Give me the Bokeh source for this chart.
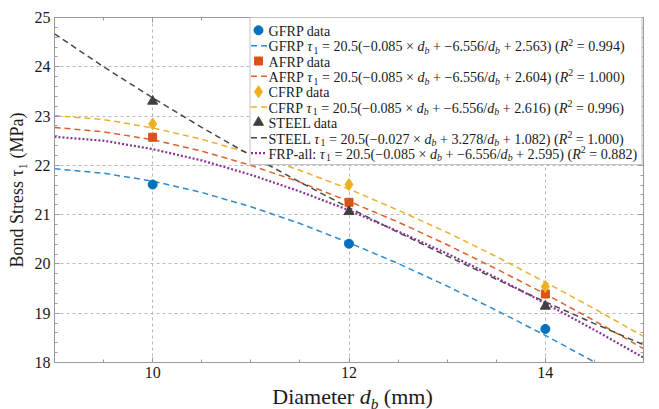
from bokeh.plotting import figure
from bokeh.layouts import column
from bokeh.models import (FixedTicker, LinearAxis, Label, CustomJSTickFormatter, Range1d)
from bokeh.embed import file_html
from bokeh.resources import INLINE

# ---------------- data ----------------
diameters = [10, 12, 14]
gfrp_data = [21.61, 20.41, 18.68]
afrp_data = [22.57, 21.25, 19.39]
cfrp_data = [22.84, 21.61, 19.54]
steel_data = [23.30, 21.06, 19.14]

fit_d = [9.0, 9.5, 10.0, 10.5, 11.0, 11.5, 12.0, 12.5, 13.0, 13.5, 14.0, 14.5, 15.0]
fit_gfrp = [21.93, 21.84, 21.68, 21.45, 21.16, 20.82, 20.43, 20.01, 19.55, 19.06, 18.55, 18.01, 17.44]
fit_afrp = [22.77, 22.68, 22.52, 22.29, 22.00, 21.66, 21.27, 20.85, 20.39, 19.90, 19.39, 18.85, 18.28]
fit_cfrp = [23.01, 22.93, 22.76, 22.53, 22.24, 21.90, 21.52, 21.09, 20.64, 20.15, 19.63, 19.09, 18.53]
fit_steel = [24.67, 24.00, 23.37, 22.77, 22.20, 21.66, 21.14, 20.64, 20.16, 19.69, 19.23, 18.79, 18.36]
fit_all = [22.58, 22.50, 22.33, 22.10, 21.81, 21.47, 21.09, 20.66, 20.21, 19.72, 19.20, 18.66, 18.10]

fit_names = ["GFRP", "AFRP", "CFRP", "STEEL", "FRP-all:"]
fit_scale = "20.5"
fit_a = [-0.085, -0.085, -0.085, -0.027, -0.085]
fit_b = [-6.556, -6.556, -6.556, 3.278, -6.556]
fit_c = [2.563, 2.604, 2.616, 1.082, 2.595]
fit_r2 = [0.994, 1.000, 0.996, 1.000, 0.882]

data_names = ["GFRP data", "AFRP data", "CFRP data", "STEEL data"]
y_label = "Bond Stress τ₁ (MPa)"

x_major = [10, 12, 14]
x_minor = [9.0, 9.5, 10.0, 10.5, 11.0, 11.5, 12.0, 12.5, 13.0, 13.5, 14.0, 14.5, 15.0]
y_major = [18, 19, 20, 21, 22, 23, 24, 25]

# ---------------- style ----------------
FONT = "Liberation Serif"
C_BLUE, C_ORANGE, C_YELLOW, C_GRAY, C_PURPLE = "#0072BD", "#D95319", "#EDB120", "#404040", "#7E2F8E"
L_BLUE, L_ORANGE, L_YELLOW, L_GRAY, L_PURPLE = "#2E8BD0", "#E0602A", "#EBB030", "#474747", "#8B2F99"
AX = "#9a9a9a"
TXT = "#1a1a1a"
BASE_FIX = 0.28     # em correction for rendered alphabetic baseline

MAIN_W, MAIN_H = 659, 384
XLAB_H = 25
BL, BR, BT, BB = 54, 16, 17, 22
X0, X1, Y0, Y1 = 9.0, 15.0, 18.0, 25.0
FL, FT = BL, BT                        # frame left/top in page pixels
FW, FH = MAIN_W - BL - BR, MAIN_H - BT - BB


def px2x(px):
    return X0 + (px - FL) * (X1 - X0) / FW


def py2y(py):
    return Y1 - (py - FT) * (Y1 - Y0) / FH


p = figure(width=MAIN_W, height=MAIN_H, x_range=Range1d(X0, X1), y_range=Range1d(Y0, Y1),
           output_backend="svg", toolbar_location=None,
           min_border_left=BL, min_border_right=BR, min_border_top=BT, min_border_bottom=BB)
p.outline_line_color = AX
p.background_fill_color = "white"

p.add_layout(LinearAxis(), "above")
p.add_layout(LinearAxis(), "right")

xt = FixedTicker(ticks=x_major, minor_ticks=x_minor)
yt = FixedTicker(ticks=y_major, minor_ticks=[18 + 0.2 * i for i in range(36)])

for ax, tk, show in [(p.below[0], xt, True), (p.above[0], xt, False),
                     (p.left[0], yt, True), (p.right[0], yt, False)]:
    ax.ticker = tk
    ax.axis_line_color = AX
    ax.major_tick_line_color = AX
    ax.minor_tick_line_color = AX
    ax.major_tick_in = 5
    ax.major_tick_out = 0
    ax.minor_tick_in = 3
    ax.minor_tick_out = 0
    ax.major_label_text_font = FONT
    ax.major_label_text_font_size = "16px"
    ax.major_label_text_color = TXT
    if not show:
        ax.formatter = CustomJSTickFormatter(code="return ''")
        ax.major_label_standoff = 0
p.below[0].major_label_standoff = 4
p.left[0].major_label_standoff = 4

yax = p.left[0]
yax.axis_label = y_label
yax.axis_label_text_font = FONT
yax.axis_label_text_font_size = "18px"
yax.axis_label_text_font_style = "normal"
yax.axis_label_text_color = TXT
yax.axis_label_standoff = 5

p.xgrid.ticker = FixedTicker(ticks=x_major)
p.ygrid.ticker = FixedTicker(ticks=y_major)
for g in (p.xgrid, p.ygrid):
    g.grid_line_color = "#b8b8b8"
    g.grid_line_dash = "3 3"
    g.grid_line_width = 1

# ---------------- fits & data ----------------
dash = "6 4"
p.line(fit_d, fit_gfrp, line_color=L_BLUE, line_width=1.5, line_dash=dash)
p.line(fit_d, fit_afrp, line_color=L_ORANGE, line_width=1.5, line_dash=dash)
p.line(fit_d, fit_cfrp, line_color=L_YELLOW, line_width=1.5, line_dash=dash)
p.line(fit_d, fit_steel, line_color=L_GRAY, line_width=1.5, line_dash=dash)
p.line(fit_d, fit_all, line_color=L_PURPLE, line_width=2.2, line_dash="2 2")

p.scatter(diameters, gfrp_data, marker="circle", size=9, fill_color=C_BLUE, line_color=C_BLUE)
p.scatter(diameters, afrp_data, marker="square", size=8, fill_color=C_ORANGE, line_color=C_ORANGE)
p.scatter(diameters, cfrp_data, marker="diamond", size=12, fill_color=C_YELLOW, line_color=C_YELLOW)
p.scatter(diameters, steel_data, marker="triangle", size=10, fill_color=C_GRAY, line_color=C_GRAY)

# ---------------- rich text helper ----------------
W_N = {' ': 250, '(': 333, ')': 333, '+': 564, '-': 333, '.': 250, '/': 278, ':': 278,
       '=': 564, '×': 564, '−': 564, 'τ': 440,
       'A': 722, 'B': 667, 'C': 667, 'D': 722, 'E': 611, 'F': 556, 'G': 722, 'L': 611,
       'M': 889, 'P': 556, 'R': 667, 'S': 556, 'T': 611, 'a': 444, 'd': 500, 'e': 444,
       'i': 278, 'l': 278, 'm': 778, 'n': 500, 'o': 500, 'r': 333, 's': 389, 't': 278}
W_I = {'d': 500, 'b': 500, 'R': 611, 'τ': 440}


def text_w(s, italic, size):
    tbl = W_I if italic else W_N
    return sum(tbl.get(ch, 500) for ch in s) * size / 1000.0


def rich(fig, segs, px, py, size, tx, ty):
    """Place rich text pieces; tx/ty map page pixels to the figure's data units."""
    pos = 0.0
    for txt, it, sc, sh in segs:
        fs = size * sc
        shift = sh * size + BASE_FIX * fs
        core = txt.strip(" ")
        lead = text_w(txt[:len(txt) - len(txt.lstrip(" "))], it, fs)
        x, y = px + pos + lead, py - shift
        if core:
            fig.add_layout(Label(x=tx(x), y=ty(y), text=core, text_font=FONT,
                                 text_font_style="italic" if it else "normal",
                                 text_font_size=f"{fs:.2f}px", text_color=TXT,
                                 text_align="left", text_baseline="alphabetic",
                                 level="overlay"))
        pos += text_w(txt, it, fs)
    return pos


def num(v):
    return ("−" if v < 0 else "") + f"{abs(v):.3f}"


# ---------------- legend ----------------
p.quad(left=[px2x(249.5)], right=[px2x(641.5)], top=[py2y(17)], bottom=[py2y(164)],
       fill_color="white", fill_alpha=1.0, line_color="#c4c4c4", line_width=1, level="annotation")

rows = [29.8 + 15.35 * i for i in range(9)]
LEG = 14.1
mk = [("circle", 9, C_BLUE), ("square", 8, C_ORANGE), ("diamond", 12, C_YELLOW), ("triangle", 10, C_GRAY)]
ln = [(L_BLUE, dash, 1.5), (L_ORANGE, dash, 1.5), (L_YELLOW, dash, 1.5), (L_GRAY, dash, 1.5), (L_PURPLE, "2 2", 2.2)]


def formula(k):
    return [(fit_names[k] + " ", False, 1, 0), ("τ", True, 1, 0), ("1", False, 0.7, -0.2),
            (f" = {fit_scale}(" + num(fit_a[k]) + " × ", False, 1, 0), ("d", True, 1, 0),
            ("b", True, 0.7, -0.2), (" + " + num(fit_b[k]) + "/", False, 1, 0), ("d", True, 1, 0),
            ("b", True, 0.7, -0.2), (" + " + num(fit_c[k]) + ") (", False, 1, 0), ("R", True, 1, 0),
            ("2", False, 0.7, 0.38), (" = " + f"{fit_r2[k]:.3f}" + ")", False, 1, 0)]


for k in range(5):
    if k < 4:
        ry = rows[2 * k]
        m, s, c = mk[k]
        p.scatter([px2x(258)], [py2y(ry)], marker=m, size=s, fill_color=c, line_color=c, level="overlay")
        rich(p, [(data_names[k], False, 1, 0)], 268, ry + 4.7, LEG, px2x, py2y)
        ry = rows[2 * k + 1]
    else:
        ry = rows[8]
    c, d, w = ln[k]
    p.line([px2x(250.5), px2x(266.5)], [py2y(ry), py2y(ry)], line_color=c, line_dash=d,
           line_width=w, level="overlay")
    rich(p, formula(k), 268, ry + 4.7, LEG, px2x, py2y)


# ---------------- x-axis label panel ----------------
# In a column, Bokeh aligns this panel's frame with the main frame (page x FL .. FL+FW),
# so its x range is given in page pixels over that span.
xlab = figure(width=MAIN_W, height=XLAB_H, x_range=Range1d(FL, FL + FW),
              y_range=Range1d(MAIN_H + XLAB_H, MAIN_H),
              output_backend="svg", toolbar_location=None, min_border=0,
              x_axis_location=None, y_axis_location=None)
xlab.grid.visible = False
xlab.outline_line_color = None
xlab.background_fill_color = "white"
xlab.border_fill_color = "white"
ident = (lambda v: v)

xl_segs = [("Diameter ", False, 1, 0), ("d", True, 1, 0), ("b", True, 0.7, -0.2), (" (mm)", False, 1, 0)]
xl_size = 22
xl_w = sum(text_w(t, i, xl_size * s) for t, i, s, _ in xl_segs)
rich(xlab, xl_segs, 352 - xl_w / 2, 402.5, xl_size, ident, ident)

layout = column(p, xlab)
open("out.html", "w").write(file_html(layout, INLINE))
